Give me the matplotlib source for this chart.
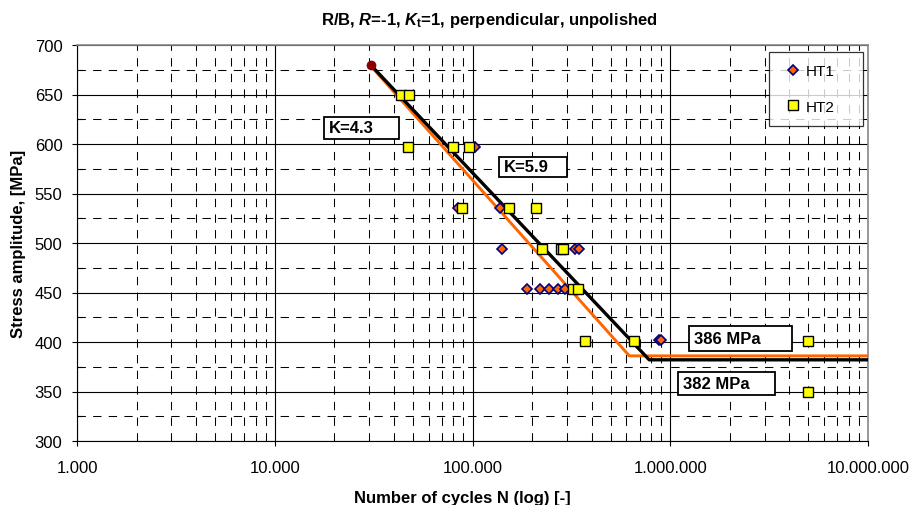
import numpy as np
import matplotlib
matplotlib.use('Agg')
from matplotlib import pyplot as plt
from matplotlib.patches import Rectangle
from matplotlib.ticker import FixedLocator, FuncFormatter, NullFormatter

plt.rcParams['font.family'] = ['Liberation Sans', 'DejaVu Sans']
plt.rcParams['mathtext.fontset'] = 'custom'
plt.rcParams['mathtext.rm'] = 'Liberation Sans:bold'
plt.rcParams['mathtext.it'] = 'Liberation Sans:italic:bold'

# data
ht1_n = [103500, 84300, 138400, 141200, 331000, 346500,
         188000, 219400, 244600, 269600, 293800, 880000, 900000]
ht1_s = [597, 535, 535, 494, 494, 494,
         454, 454, 454, 454, 454, 402, 402]

ht2_n = [43650, 47600, 47000, 79550, 95700, 88700, 153800, 209900,
         224800, 279000, 288000, 321000, 340000, 370700, 657000,
         5000000, 5000000]
ht2_s = [650, 650, 597, 597, 597, 535, 535, 535,
         494, 494, 494, 454, 454, 401, 401,
         401, 350]

# fitted curves
fit_black_n = [30500, 783000, 1e7]
fit_black_s = [680, 382, 382]
fit_orange_n = [31000, 621000, 1e7]
fit_orange_s = [677.5, 386, 386]
start_n, start_s = 30500, 680

# text boxes: text, left N, right N, bottom S, top S
boxes = [('K=4.3', 17680, 42300, 605.1, 627.3),
         ('K=5.9', 136900, 301800, 566.7, 586.9),
         ('386 MPa', 1247000, 4132000, 391.2, 416.5),
         ('382 MPa', 1097000, 3391000, 346.5, 369.7)]

# figure
fig = plt.figure(figsize=(9.11, 5.06), dpi=100)
ax = fig.add_axes([77/911, 64/506, 791/911, 396/506])
ax.set_xscale('log')
ax.set_xlim(1e3, 1e7)
ax.set_ylim(300, 700)

# grid
ax.set_yticks(np.arange(300, 701, 50))
ax.yaxis.set_minor_locator(FixedLocator(np.arange(325, 700, 50)))
ax.xaxis.set_minor_locator(FixedLocator(
    [m * 10**e for e in range(3, 7) for m in range(2, 10)]))
ax.xaxis.set_minor_formatter(NullFormatter())
ax.grid(which='major', color='k', lw=0.8, ls='-', zorder=0)
ax.grid(which='minor', color='k', lw=0.75, ls=(0, (8, 7)), zorder=0)
ax.set_axisbelow(True)

ax.xaxis.set_major_formatter(FuncFormatter(lambda v, p: '{:,.0f}'.format(v).replace(',', '.')))
ax.tick_params(which='major', labelsize=12, length=3.5, direction='out', width=0.8)
ax.tick_params(axis='x', which='major', pad=10)
ax.tick_params(axis='y', which='major', pad=7)
ax.tick_params(axis='x', which='minor', length=0)
ax.tick_params(axis='y', which='minor', length=3.5, direction='in', width=0.8)
for s in ['top', 'right']:
    ax.spines[s].set_color('#888888')
    ax.spines[s].set_linewidth(1.2)
ax.spines['left'].set_color('k')
ax.spines['bottom'].set_color('k')

# curves
ax.plot(fit_orange_n, fit_orange_s, color='#ff6600', lw=2.1, zorder=3)
ax.plot(fit_black_n, fit_black_s, color='k', lw=2.4, zorder=3)
ax.plot([start_n], [start_s], 'o', color='#8b0000', ms=6, zorder=4)

# data points
ax.plot(ht1_n, ht1_s, 'D', ls='none', mfc='#ff6600', mec='#000080',
        ms=5.2, mew=1.2, label='HT1', zorder=5)
ax.plot(ht2_n, ht2_s, 's', ls='none', mfc='#ffff00', mec='k',
        ms=7.5, mew=1.0, label='HT2', zorder=6)

# annotation boxes
for txt, n0, n1, s0, s1 in boxes:
    ax.add_patch(Rectangle((n0, s0), n1 - n0, s1 - s0, fc='white', ec='k',
                           lw=1.3, zorder=7))
    ax.annotate(txt, xy=(n0, (s0 + s1) / 2), xytext=(3.5, 0),
                textcoords='offset points', fontsize=12, fontweight='bold',
                va='center', ha='left', zorder=8)

leg = ax.legend(loc='upper left', bbox_to_anchor=(0.875, 0.80, 0.1187, 0.182),
                mode='expand', fontsize=11, frameon=True, fancybox=False,
                edgecolor='k', labelspacing=1.42, handlelength=1.55,
                handletextpad=0.05, borderpad=0.78, borderaxespad=0)
leg.get_frame().set_linewidth(0.9)

fig.text(489/911, 1 - 25.5/506,
         r'R/B, $R$=-1, $K_{\rm t}$=1, perpendicular, unpolished',
         fontsize=12, fontweight='bold', ha='center', va='baseline')
ax.set_xlabel('Number of cycles N (log) [-]', fontsize=12, fontweight='bold')
ax.xaxis.set_label_coords((462.5 - 77) / 791, (442 - 499) / 396)
ax.xaxis.label.set_va('center')
ax.set_ylabel('Stress amplitude, [MPa]', fontsize=12, fontweight='bold')
ax.yaxis.set_label_coords((19 - 77) / 791, 0.5)
ax.yaxis.label.set_va('center')

fig.savefig('out.png', dpi=100)
